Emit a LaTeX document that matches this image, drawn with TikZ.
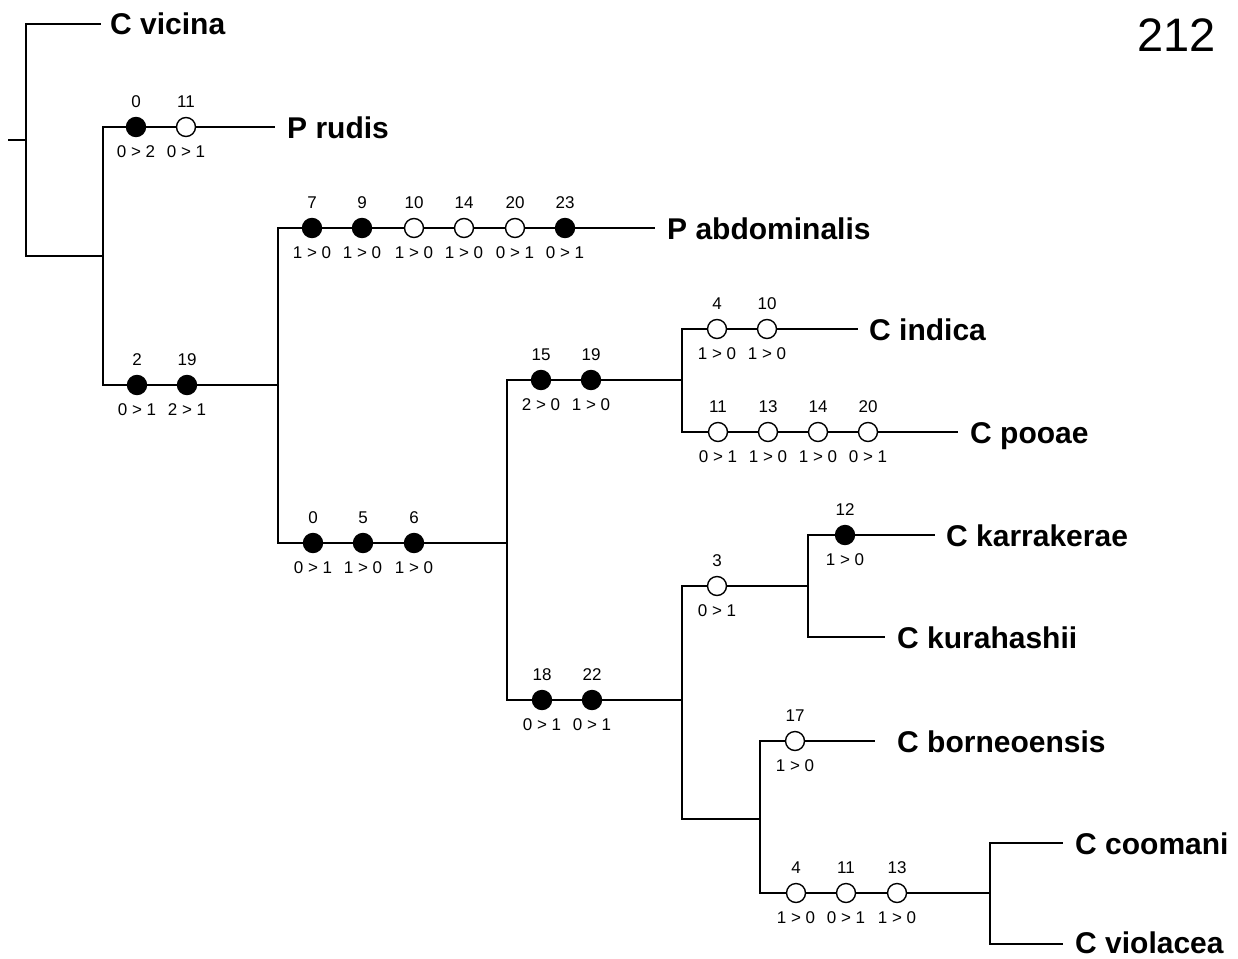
\documentclass[tikz,border=0pt]{standalone}
\usepackage{fontspec}
\setmainfont{Liberation Sans}
\newcommand{\chg}[6]{%
  \node[#4] (#1) at (#2,#3) {};
  \node[num] (#1t) at (#2,#3-20) {#5};
  \node[num] (#1b) at (#2,#3+30) {#6};}
\begin{document}
\begin{tikzpicture}[x=1pt,y=-1pt,
  br/.style={line width=1.4pt},
  fdot/.style={circle,draw,fill=black,minimum size=19pt,inner sep=0pt,line width=1.4pt},
  odot/.style={circle,draw,fill=white,minimum size=19pt,inner sep=0pt,line width=1.4pt},
  taxon/.style={anchor=base west,font=\fontsize{30}{31}\selectfont\bfseries,inner sep=0pt},
  num/.style={anchor=base,font=\fontsize{17}{17}\selectfont,inner sep=0pt}]
\useasboundingbox (0,0) rectangle (1238,958);
% internal nodes
\coordinate (root) at (8,140);
\coordinate (n0) at (26,140);
\coordinate (n1) at (103,256);
\coordinate (n2) at (278,385);
\coordinate (n3) at (507,543);
\coordinate (n4) at (682,380);
\coordinate (n5) at (682,700);
\coordinate (n6) at (808,586);
\coordinate (n7) at (760,819);
\coordinate (n8) at (990,893);
% tip ends
\coordinate (evic) at (101,24);
\coordinate (erud) at (275,127);
\coordinate (eabd) at (655,228);
\coordinate (eind) at (858,329);
\coordinate (epoo) at (958,432);
\coordinate (ekar) at (935,535);
\coordinate (ekur) at (885,637);
\coordinate (ebor) at (875,741);
\coordinate (ecoo) at (1063,843);
\coordinate (evio) at (1063,944);
% branches
\draw[br] (root) -- (n0);
\draw[br] (n0) |- (evic);
\draw[br] (n0) |- (n1);
\draw[br] (n1) |- (erud);
\draw[br] (n1) |- (n2);
\draw[br] (n2) |- (eabd);
\draw[br] (n2) |- (n3);
\draw[br] (n3) |- (n4);
\draw[br] (n3) |- (n5);
\draw[br] (n4) |- (eind);
\draw[br] (n4) |- (epoo);
\draw[br] (n5) |- (n6);
\draw[br] (n5) |- (n7);
\draw[br] (n6) |- (ekar);
\draw[br] (n6) |- (ekur);
\draw[br] (n7) |- (ebor);
\draw[br] (n7) |- (n8);
\draw[br] (n8) |- (ecoo);
\draw[br] (n8) |- (evio);
% taxa
\node[taxon] (tvic) at (110,35) {C vicina};
\node[taxon] (trud) at (287,138) {P rudis};
\node[taxon] (tabd) at (667,239) {P abdominalis};
\node[taxon] (tind) at (869,340) {C indica};
\node[taxon] (tpoo) at (970,443) {C pooae};
\node[taxon] (tkar) at (946,546) {C karrakerae};
\node[taxon] (tkur) at (897,648) {C kurahashii};
\node[taxon] (tbor) at (897,752) {C borneoensis};
\node[taxon] (tcoo) at (1075,854) {C coomani};
\node[taxon] (tvio) at (1075,953) {C violacea};
% character changes
\chg{a1}{136}{127}{fdot}{0}{0 > 2}
\chg{a2}{186}{127}{odot}{11}{0 > 1}
\chg{b1}{137}{385}{fdot}{2}{0 > 1}
\chg{b2}{187}{385}{fdot}{19}{2 > 1}
\chg{c1}{312}{228}{fdot}{7}{1 > 0}
\chg{c2}{362}{228}{fdot}{9}{1 > 0}
\chg{c3}{414}{228}{odot}{10}{1 > 0}
\chg{c4}{464}{228}{odot}{14}{1 > 0}
\chg{c5}{515}{228}{odot}{20}{0 > 1}
\chg{c6}{565}{228}{fdot}{23}{0 > 1}
\chg{d1}{313}{543}{fdot}{0}{0 > 1}
\chg{d2}{363}{543}{fdot}{5}{1 > 0}
\chg{d3}{414}{543}{fdot}{6}{1 > 0}
\chg{e1}{541}{380}{fdot}{15}{2 > 0}
\chg{e2}{591}{380}{fdot}{19}{1 > 0}
\chg{f1}{717}{329}{odot}{4}{1 > 0}
\chg{f2}{767}{329}{odot}{10}{1 > 0}
\chg{g1}{718}{432}{odot}{11}{0 > 1}
\chg{g2}{768}{432}{odot}{13}{1 > 0}
\chg{g3}{818}{432}{odot}{14}{1 > 0}
\chg{g4}{868}{432}{odot}{20}{0 > 1}
\chg{h1}{542}{700}{fdot}{18}{0 > 1}
\chg{h2}{592}{700}{fdot}{22}{0 > 1}
\chg{i1}{717}{586}{odot}{3}{0 > 1}
\chg{j1}{845}{535}{fdot}{12}{1 > 0}
\chg{k1}{795}{741}{odot}{17}{1 > 0}
\chg{l1}{796}{893}{odot}{4}{1 > 0}
\chg{l2}{846}{893}{odot}{11}{0 > 1}
\chg{l3}{897}{893}{odot}{13}{1 > 0}
% page number
\node[anchor=base east,font=\fontsize{47}{48}\selectfont,inner sep=0pt] (page) at (1216,52) {212};
\end{tikzpicture}
\end{document}
